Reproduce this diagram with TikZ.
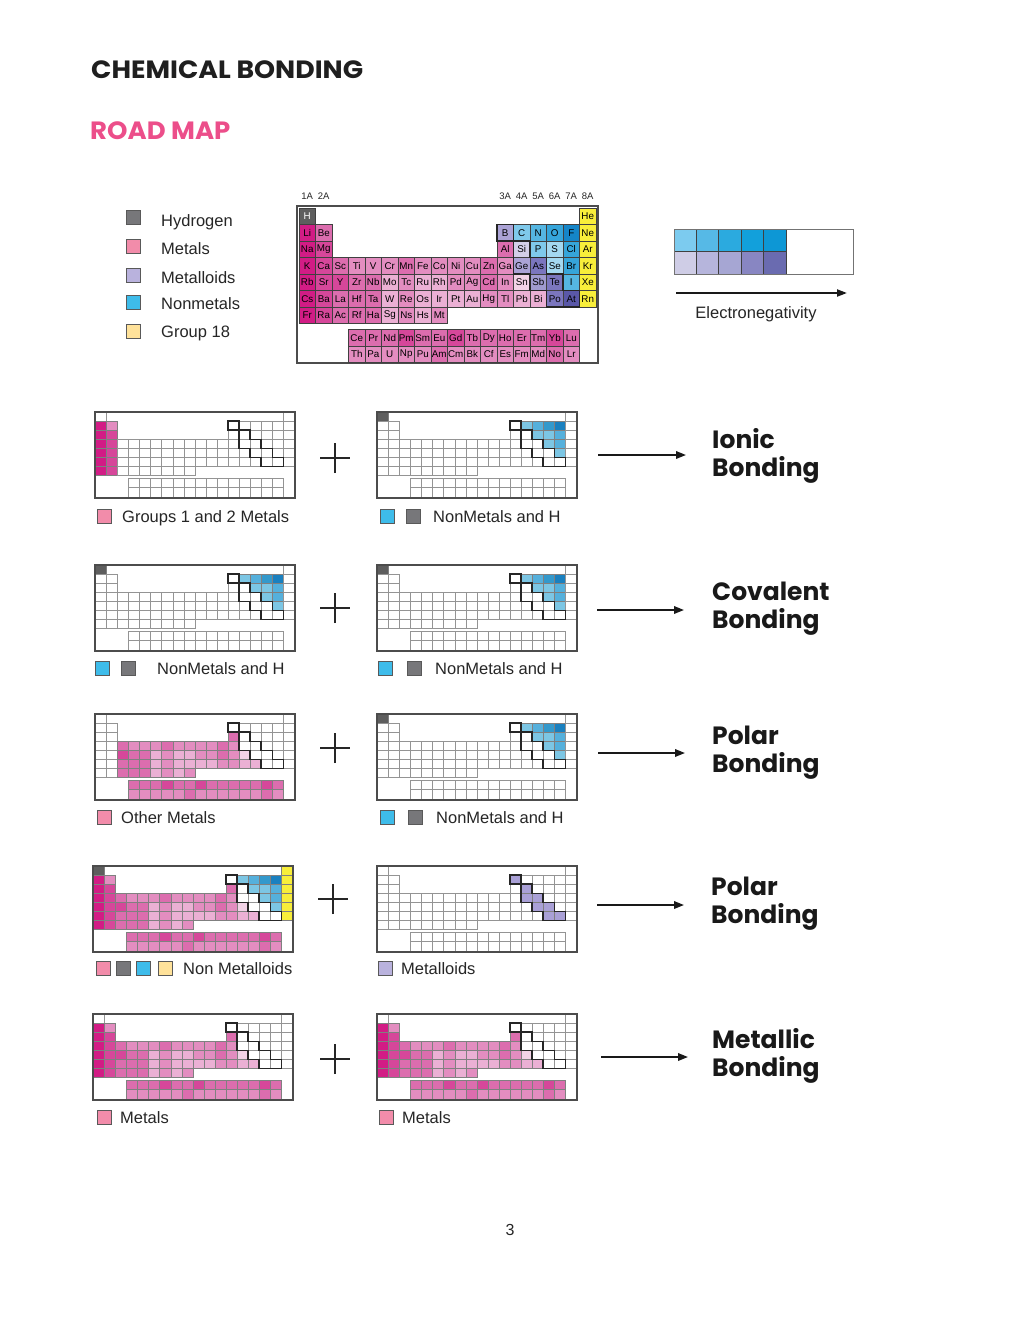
\documentclass[tikz,border=0pt]{standalone}
\usepackage{fontspec}
\setmainfont{Liberation Sans}
\newfontfamily\headfont{Poppins}
\usetikzlibrary{arrows.meta}
% metals
\definecolor{m1}{HTML}{D21C85}
\definecolor{m2}{HTML}{D6479A}
\definecolor{m3}{HTML}{DC6DAE}
\definecolor{m4}{HTML}{E38DC0}
\definecolor{m5}{HTML}{EBB0D4}
\definecolor{m6}{HTML}{F2D3E6}
% metalloids
\definecolor{d1}{HTML}{D3CFE8}
\definecolor{d2}{HTML}{ABA3D6}
\definecolor{d3}{HTML}{9F9ACF}
\definecolor{d4}{HTML}{7B76BE}
\definecolor{d5}{HTML}{5A58A8}
\definecolor{dd}{HTML}{A9A0D6}
% nonmetals
\definecolor{n1}{HTML}{A4D8F0}
\definecolor{n2}{HTML}{7FC9EB}
\definecolor{n3}{HTML}{55B6E2}
\definecolor{n4}{HTML}{36A5DA}
\definecolor{n5}{HTML}{1585C8}
\definecolor{s1}{HTML}{7CC6E4}
\definecolor{s2}{HTML}{55B0DC}
\definecolor{s3}{HTML}{3399CC}
\definecolor{s4}{HTML}{1A80BF}
\definecolor{ye}{HTML}{F8EE3A}
\definecolor{hg}{HTML}{5E5E5E}
% legend colours
\definecolor{lgH}{HTML}{77777A}
\definecolor{lgM}{HTML}{F28CAA}
\definecolor{lgD}{HTML}{B9B2DD}
\definecolor{lgN}{HTML}{3EBCEA}
\definecolor{lgG}{HTML}{FFE29A}
\definecolor{roadpink}{HTML}{EC4E8A}
% electronegativity
\definecolor{et1}{HTML}{7CCBEF}
\definecolor{et2}{HTML}{56B9E6}
\definecolor{et3}{HTML}{2BAADF}
\definecolor{et4}{HTML}{12A0DB}
\definecolor{et5}{HTML}{0D97D5}
\definecolor{eb1}{HTML}{CFCDE6}
\definecolor{eb2}{HTML}{B6B5DC}
\definecolor{eb3}{HTML}{A6A6D3}
\definecolor{eb4}{HTML}{8886C2}
\definecolor{eb5}{HTML}{6A6BB0}

\def\elements{1/1/{\textcolor{white}{H}}/hg/hg/H,
18/1/He/ye/ye/G,
1/2/Li/m1/m1/A, 2/2/Be/m3/m4/E, 13/2/B/d2/dd/D, 14/2/C/n2/s1/N, 15/2/N/n3/s2/N, 16/2/O/n4/s3/N, 17/2/F/n5/s4/N, 18/2/Ne/ye/ye/G,
1/3/Na/m1/m1/A, 2/3/Mg/m2/m2/E, 13/3/Al/m3/m3/M, 14/3/Si/d1/dd/D, 15/3/P/n2/s1/N, 16/3/S/n1/s1/N, 17/3/Cl/n4/s2/N, 18/3/Ar/ye/ye/G,
1/4/K/m1/m1/A, 2/4/Ca/m2/m2/E, 3/4/Sc/m3/m3/M, 4/4/Ti/m4/m4/M, 5/4/V/m4/m4/M, 6/4/Cr/m4/m4/M, 7/4/Mn/m3/m3/M, 8/4/Fe/m4/m4/M, 9/4/Co/m4/m4/M, 10/4/Ni/m4/m4/M, 11/4/Cu/m4/m4/M, 12/4/Zn/m3/m3/M, 13/4/Ga/m4/m4/M, 14/4/Ge/d2/dd/D, 15/4/As/d4/dd/D, 16/4/Se/n1/s1/N, 17/4/Br/n4/s2/N, 18/4/Kr/ye/ye/G,
1/5/Rb/m1/m1/A, 2/5/Sr/m2/m2/E, 3/5/Y/m2/m2/M, 4/5/Zr/m3/m3/M, 5/5/Nb/m3/m3/M, 6/5/Mo/m5/m5/M, 7/5/Tc/m4/m4/M, 8/5/Ru/m5/m5/M, 9/5/Rh/m5/m5/M, 10/5/Pd/m4/m4/M, 11/5/Ag/m4/m4/M, 12/5/Cd/m3/m3/M, 13/5/In/m4/m4/M, 14/5/Sn/m6/m6/M, 15/5/Sb/d3/dd/D, 16/5/Te/d4/dd/D, 17/5/I/n3/s1/N, 18/5/Xe/ye/ye/G,
1/6/Cs/m1/m1/A, 2/6/Ba/m2/m2/E, 3/6/La/m3/m3/M, 4/6/Hf/m3/m3/M, 5/6/Ta/m3/m3/M, 6/6/W/m5/m5/M, 7/6/Re/m4/m4/M, 8/6/Os/m5/m5/M, 9/6/Ir/m5/m5/M, 10/6/Pt/m5/m5/M, 11/6/Au/m5/m5/M, 12/6/Hg/m4/m4/M, 13/6/Tl/m4/m4/M, 14/6/Pb/m5/m5/M, 15/6/Bi/m5/m5/M, 16/6/Po/d4/dd/D, 17/6/At/d5/dd/D, 18/6/Rn/ye/ye/G,
1/7/Fr/m1/m1/A, 2/7/Ra/m2/m2/E, 3/7/Ac/m3/m3/M, 4/7/Rf/m3/m3/M, 5/7/Ha/m3/m3/M, 6/7/Sg/m5/m5/M, 7/7/Ns/m4/m4/M, 8/7/Hs/m5/m5/M, 9/7/Mt/m4/m4/M,
4/8/Ce/m3/m3/M, 5/8/Pr/m3/m3/M, 6/8/Nd/m3/m3/M, 7/8/Pm/m2/m2/M, 8/8/Sm/m3/m3/M, 9/8/Eu/m3/m3/M, 10/8/Gd/m2/m2/M, 11/8/Tb/m3/m3/M, 12/8/Dy/m3/m3/M, 13/8/Ho/m3/m3/M, 14/8/Er/m3/m3/M, 15/8/Tm/m3/m3/M, 16/8/Yb/m2/m2/M, 17/8/Lu/m3/m3/M,
4/9/Th/m4/m4/M, 5/9/Pa/m4/m4/M, 6/9/U/m4/m4/M, 7/9/Np/m4/m4/M, 8/9/Pu/m4/m4/M, 9/9/Am/m3/m3/M, 10/9/Cm/m4/m4/M, 11/9/Bk/m4/m4/M, 12/9/Cf/m4/m4/M, 13/9/Es/m4/m4/M, 14/9/Fm/m4/m4/M, 15/9/Md/m4/m4/M, 16/9/No/m3/m3/M, 17/9/Lr/m4/m4/M}

\tikzset{
 bigcell/.style={draw=black!75, line width=0.7pt, minimum width=16.5pt, minimum height=16.5pt, inner sep=0pt, outer sep=0pt, font=\fontsize{9.8}{9.8}\selectfont},
 stair/.style={draw=black!85, line width=1.6pt, line join=miter},
 tframe/.style={draw=black!70, line width=1.3pt},
 legsq/.style={draw=black!65, line width=0.8pt, minimum size=14pt, inner sep=0pt, outer sep=0pt},
 legtxt/.style={anchor=base west, inner sep=0pt, font=\fontsize{16.5}{18}\selectfont, text=black!85},
 hdr/.style={anchor=base, inner sep=0pt, font=\fontsize{9.5}{9.5}\selectfont, text=black!85},
 bond/.style={anchor=north west, inner sep=0pt, align=left, font=\headfont\bfseries\fontsize{25}{28}\selectfont, text=black!90},
 plussign/.style={line width=2.2pt, black!85},
 bondarrow/.style={line width=1.8pt, black!90, -{Triangle[length=10pt,width=7.5pt]}},
}

\makeatletter
\newcommand\stairpath{(12,1) rectangle (13,2)
  (13,2) -- (14,2) -- (14,3) -- (15,3) -- (15,4) -- (16,4) -- (16,5) -- (17,5) -- (17,6) -- (15,6) -- (15,5) -- (14,5) -- (14,4) -- (13,4) -- cycle}
\newcommand\smalltable[3]{%
 \begin{scope}[shift={(#1+0.5,#2)},x=11.05pt,y=-9.1pt]
  \def\curset{#3}%
  \foreach \ec/\er/\et/\eb/\es/\ek in \elements {%
    \edef\tmp{\noexpand\in@{\ek}{\curset}}\tmp
    \ifin@\edef\fc{\es}\else\def\fc{white}\fi
    \pgfmathsetmacro\yy{\er-1+(\er>7?0.33:0)}%
    \ifx\fc\whitename
      \path[fill=white,draw=black!42,line width=0.7pt] (\ec-1,\yy) rectangle ++(1,1);
    \else
      \path[fill=\fc,draw=black!50,line width=0.7pt] (\ec-1,\yy) rectangle ++(1,1);
    \fi
  }
  \draw[stair] \stairpath;
 \end{scope}
 \draw[tframe] (#1,#2) rectangle ++(200,86);
}
\def\whitename{white}
\makeatother

\begin{document}
\begin{tikzpicture}[x=1pt,y=-1pt]
\useasboundingbox[fill=white] (0,0) rectangle (1020,1320);

% titles
\node[anchor=base west, inner sep=0pt, font=\headfont\bfseries\fontsize{25}{25}\selectfont, text=black!88] (title) at (91,78) {\scalebox{1.07}[1]{CHEMICAL BONDING}};
\node[anchor=base west, inner sep=0pt, font=\headfont\bfseries\fontsize{25}{25}\selectfont, text=roadpink] (road) at (90,139) {\scalebox{1.04}[1]{ROAD MAP}};

% legend
\node[legsq, fill=lgH, anchor=north west] (lq1) at (126,210) {};
\node[legsq, fill=lgM, anchor=north west] (lq2) at (126,239) {};
\node[legsq, fill=lgD, anchor=north west] (lq3) at (126,268) {};
\node[legsq, fill=lgN, anchor=north west] (lq4) at (126,295) {};
\node[legsq, fill=lgG, anchor=north west] (lq5) at (126,324) {};
\node[legtxt] (lt1) at (161,226) {Hydrogen};
\node[legtxt] (lt2) at (161,254) {Metals};
\node[legtxt] (lt3) at (161,283) {Metalloids};
\node[legtxt] (lt4) at (161,309) {Nonmetals};
\node[legtxt] (lt5) at (161,337) {Group 18};

% big periodic table
\node[hdr] (g1) at (307.25,199) {1A};
\node[hdr] (g2) at (323.75,199) {2A};
\node[hdr] (g13) at (505.25,199) {3A};
\node[hdr] (g14) at (521.75,199) {4A};
\node[hdr] (g15) at (538.25,199) {5A};
\node[hdr] (g16) at (554.75,199) {6A};
\node[hdr] (g17) at (571.25,199) {7A};
\node[hdr] (g18) at (587.75,199) {8A};
\draw[tframe] (297,206) rectangle (598,363);
\begin{scope}[shift={(299,208)},x=16.5pt,y=-16.5pt]
 \foreach \ec/\er/\et/\eb/\es/\ek in \elements {%
   \pgfmathsetmacro\yy{\er-1+(\er>7?0.37:0)}%
   \node[bigcell, fill=\eb, anchor=north west] (pt-\ec-\er) at (\ec-1,\yy) {\et};
 }
 \draw[stair] \stairpath;
\end{scope}

% electronegativity bar
\foreach \i/\ct/\cb in {0/et1/eb1,1/et2/eb2,2/et3/eb3,3/et4/eb4,4/et5/eb5}{%
  \path[fill=\ct, draw=black!75, line width=0.7pt] (674+\i*22.4,229) rectangle ++(22.4,22.5);
  \path[fill=\cb, draw=black!75, line width=0.7pt] (674+\i*22.4,251.5) rectangle ++(22.4,22.5);
}
\draw[draw=black!55, line width=1pt] (674,229) rectangle (853,274);
\coordinate (ens) at (676,293);
\coordinate (ene) at (847,293);
\draw[line width=2pt, black!90, -{Triangle[length=10pt,width=7pt]}] (ens) -- (ene);
\node[anchor=base, inner sep=0pt, font=\fontsize{16.5}{18}\selectfont, text=black!85] (entext) at (756,318) {Electronegativity};

% ---------- row 1: ionic
\smalltable{95}{412}{AE}
\smalltable{377}{412}{HN}
\node (plus1) at (335,458) {};
\draw[plussign] ([xshift=-15pt]plus1.center) -- ([xshift=15pt]plus1.center);
\draw[plussign] ([yshift=-15pt]plus1.center) -- ([yshift=15pt]plus1.center);
\coordinate (a1s) at (598,455); \coordinate (a1e) at (686,455);
\draw[bondarrow] (a1s) -- (a1e);
\node[bond] (b1) at (712,428) {Ionic\\Bonding};
\node[legsq, fill=lgM, anchor=north west] (c1a) at (97,509) {};
\node[legtxt] (c1t) at (122,522) {Groups 1 and 2 Metals};
\node[legsq, fill=lgN, anchor=north west] (c1b) at (380,509) {};
\node[legsq, fill=lgH, anchor=north west] (c1c) at (406,509) {};
\node[legtxt] (c1u) at (433,522) {NonMetals and H};

% ---------- row 2: covalent
\smalltable{95}{565}{HN}
\smalltable{377}{565}{HN}
\node (plus2) at (335,608) {};
\draw[plussign] ([xshift=-15pt]plus2.center) -- ([xshift=15pt]plus2.center);
\draw[plussign] ([yshift=-15pt]plus2.center) -- ([yshift=15pt]plus2.center);
\coordinate (a2s) at (597,610); \coordinate (a2e) at (684,610);
\draw[bondarrow] (a2s) -- (a2e);
\node[bond] (b2) at (712,582) {Covalent\\Bonding};
\node[legsq, fill=lgN, anchor=north west] (c2a) at (95,661) {};
\node[legsq, fill=lgH, anchor=north west] (c2b) at (121,661) {};
\node[legtxt] (c2t) at (157,674) {NonMetals and H};
\node[legsq, fill=lgN, anchor=north west] (c2c) at (378,661) {};
\node[legsq, fill=lgH, anchor=north west] (c2d) at (407,661) {};
\node[legtxt] (c2u) at (435,674) {NonMetals and H};

% ---------- row 3: polar
\smalltable{95}{714}{M}
\smalltable{377}{714}{HN}
\node (plus3) at (335,748) {};
\draw[plussign] ([xshift=-15pt]plus3.center) -- ([xshift=15pt]plus3.center);
\draw[plussign] ([yshift=-15pt]plus3.center) -- ([yshift=15pt]plus3.center);
\coordinate (a3s) at (598,753); \coordinate (a3e) at (685,753);
\draw[bondarrow] (a3s) -- (a3e);
\node[bond] (b3) at (712,726) {Polar\\Bonding};
\node[legsq, fill=lgM, anchor=north west] (c3a) at (97,810) {};
\node[legtxt] (c3t) at (121,823) {Other Metals};
\node[legsq, fill=lgN, anchor=north west] (c3b) at (380,810) {};
\node[legsq, fill=lgH, anchor=north west] (c3c) at (408,810) {};
\node[legtxt] (c3u) at (436,823) {NonMetals and H};

% ---------- row 4: polar
\smalltable{93}{866}{HAEMNG}
\smalltable{377}{866}{D}
\node (plus4) at (333,899) {};
\draw[plussign] ([xshift=-15pt]plus4.center) -- ([xshift=15pt]plus4.center);
\draw[plussign] ([yshift=-15pt]plus4.center) -- ([yshift=15pt]plus4.center);
\coordinate (a4s) at (597,905); \coordinate (a4e) at (684,905);
\draw[bondarrow] (a4s) -- (a4e);
\node[bond] (b4) at (711,877) {Polar\\Bonding};
\node[legsq, fill=lgM, anchor=north west] (c4a) at (96,961) {};
\node[legsq, fill=lgH, anchor=north west] (c4b) at (116,961) {};
\node[legsq, fill=lgN, anchor=north west] (c4c) at (136,961) {};
\node[legsq, fill=lgG, anchor=north west] (c4d) at (158,961) {};
\node[legtxt] (c4t) at (183,974) {Non Metalloids};
\node[legsq, fill=lgD, anchor=north west] (c4e) at (378,961) {};
\node[legtxt] (c4u) at (401,974) {Metalloids};

% ---------- row 5: metallic
\smalltable{93}{1014}{AEM}
\smalltable{377}{1014}{AEM}
\node (plus5) at (335,1059) {};
\draw[plussign] ([xshift=-15pt]plus5.center) -- ([xshift=15pt]plus5.center);
\draw[plussign] ([yshift=-15pt]plus5.center) -- ([yshift=15pt]plus5.center);
\coordinate (a5s) at (601,1057); \coordinate (a5e) at (688,1057);
\draw[bondarrow] (a5s) -- (a5e);
\node[bond] (b5) at (712,1028) {Metallic\\Bonding};
\node[legsq, fill=lgM, anchor=north west] (c5a) at (97,1110) {};
\node[legtxt] (c5t) at (120,1123) {Metals};
\node[legsq, fill=lgM, anchor=north west] (c5b) at (379,1110) {};
\node[legtxt] (c5u) at (402,1123) {Metals};

% page number
\node[anchor=base, inner sep=0pt, font=\fontsize{16}{18}\selectfont, text=black!85] (pg) at (510,1235) {3};
\end{tikzpicture}
\end{document}
